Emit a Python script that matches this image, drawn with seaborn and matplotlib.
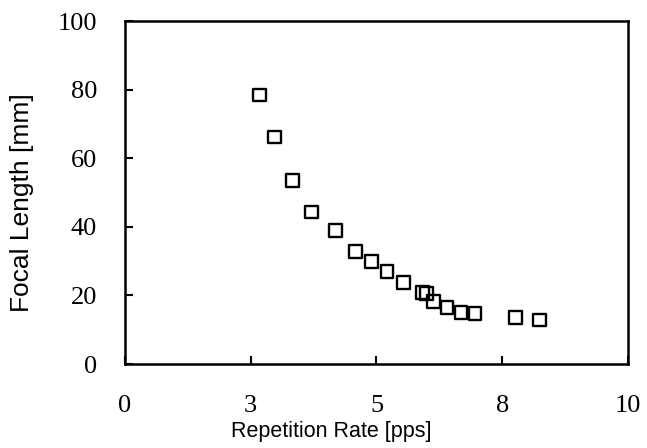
import matplotlib
matplotlib.use('Agg')
import matplotlib.pyplot as plt
import seaborn as sns
import pandas as pd

# data
rep_rate = [2.68, 2.98, 3.33, 3.71, 4.19, 4.59, 4.90, 5.21, 5.53, 5.92, 6.00,
            6.14, 6.40, 6.68, 6.96, 7.77, 8.24]
focal_len = [78.4, 66.2, 53.6, 44.3, 38.9, 32.9, 29.8, 26.9, 23.8, 20.8, 20.6,
             18.2, 16.5, 15.1, 14.8, 13.5, 12.8]

x_ticks = [0, 2.5, 5, 7.5, 10]
x_ticklabels = ['0', '3', '5', '8', '10']
y_ticks = [0, 20, 40, 60, 80, 100]
y_ticklabels = ['0', '20', '40', '60', '80', '100']

df = pd.DataFrame({'rate': rep_rate, 'focal': focal_len})

sns.set_style('white')
fig = plt.figure(figsize=(6.47, 4.48), dpi=100)
ax = fig.add_axes([0.1932, 0.1875, 0.7774, 0.7656])

sns.scatterplot(data=df, x='rate', y='focal', marker='s', s=85,
                facecolor='none', edgecolor='black', linewidth=1.7, ax=ax)

ax.set_xlim(0, 10)
ax.set_ylim(0, 100)
ax.set_xticks(x_ticks)
ax.set_xticklabels(x_ticklabels)
ax.set_yticks(y_ticks)
ax.set_yticklabels(y_ticklabels)

for lab in ax.get_xticklabels() + ax.get_yticklabels():
    lab.set_fontfamily('Liberation Serif')
    lab.set_fontsize(19)
    lab.set_color('black')

ax.tick_params(axis='both', direction='in', length=6, width=1.5, color='black',
               bottom=True, left=True)
ax.tick_params(axis='x', pad=22)
ax.tick_params(axis='y', pad=20)

for sp in ax.spines.values():
    sp.set_linewidth(1.8)
    sp.set_color('black')

ax.set_xlabel('Repetition Rate [pps]', family='Liberation Sans', fontsize=15.5,
              color='black')
ax.set_ylabel('Focal Length [mm]', family='Liberation Sans', fontsize=19,
              color='black')
ax.xaxis.set_label_coords(0.41, -0.165)
ax.yaxis.set_label_coords(-0.18, 0.47)

fig.savefig('out.png', dpi=100)
